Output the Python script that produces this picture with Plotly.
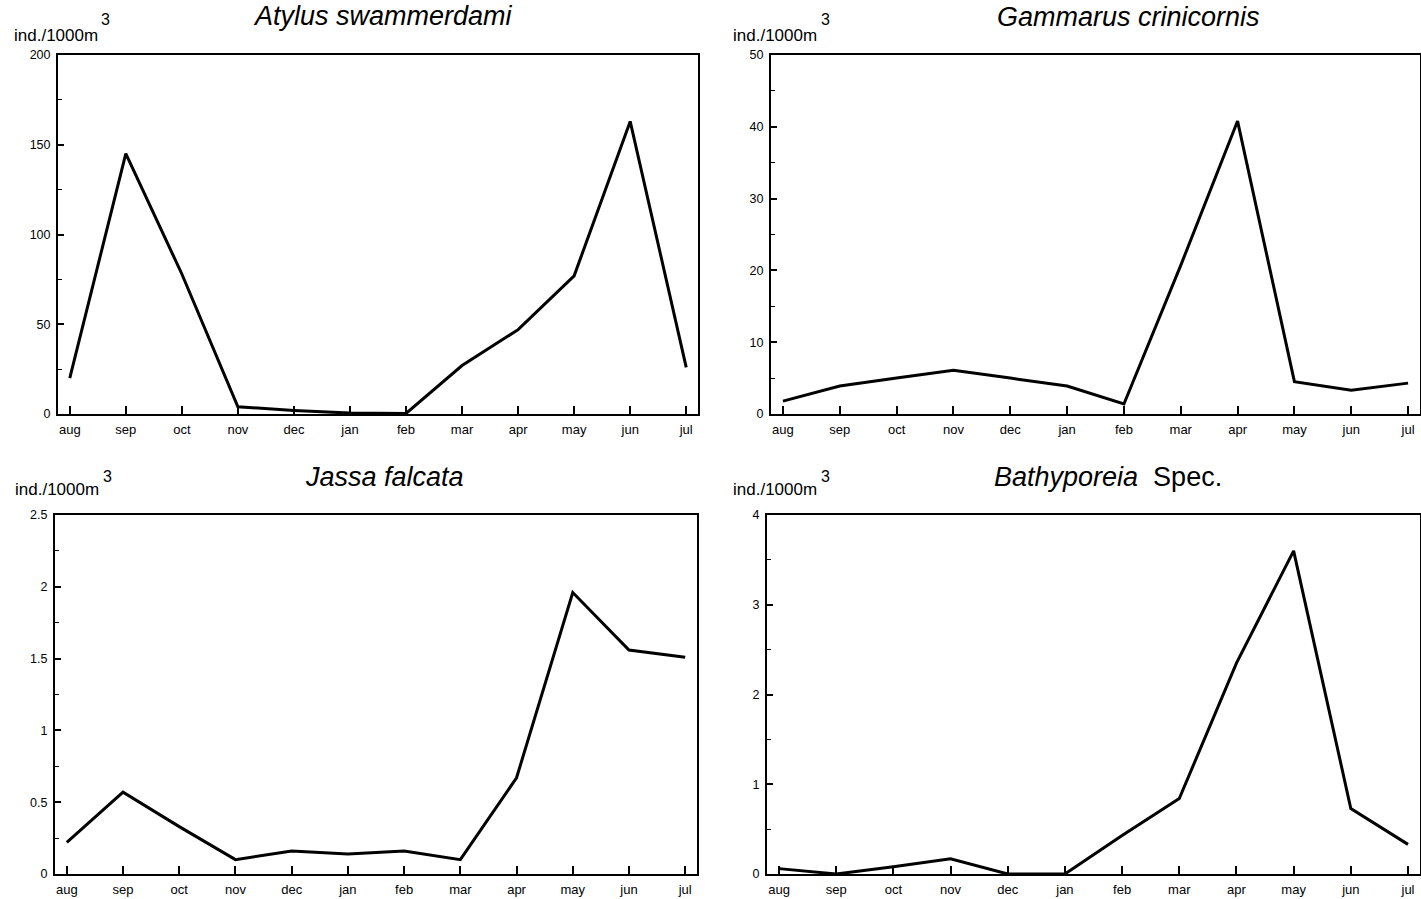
import plotly.graph_objects as go

months = ["aug", "sep", "oct", "nov", "dec", "jan", "feb", "mar", "apr", "may", "jun", "jul"]

atylus = [20, 145, 78, 4, 2, 0.5, 0.3, 27, 47, 77, 163, 26]
gammarus = [1.8, 3.9, 5.0, 6.1, 5.0, 3.9, 1.4, 20.7, 40.8, 4.5, 3.3, 4.3]
jassa = [0.22, 0.57, 0.33, 0.10, 0.16, 0.14, 0.16, 0.10, 0.67, 1.96, 1.56, 1.51]
bathyporeia = [0.06, 0.0, 0.08, 0.17, 0.0, 0.0, 0.43, 0.84, 2.35, 3.6, 0.73, 0.33]

titles = ["<i>Atylus swammerdami</i>", "<i>Gammarus crinicornis</i>",
          "<i>Jassa falcata</i>", "<i>Bathyporeia</i>  Spec."]
y_max = [200, 50, 2.5, 4]
y_dtick = [50, 10, 0.5, 1]
y_minor = [25, 5, 0.25, 0.5]
series = [atylus, gammarus, jassa, bathyporeia]

W, H = 1421, 899

def px(x):
    return x / W

def py(y):
    return (H - y) / H

# panel pixel boxes: (left, right, top, bottom)
boxes = [(58, 698, 55, 414), (771, 1420, 55, 414), (55, 697, 515, 874), (767, 1420, 515, 874)]
title_pos = [(383, 16), (1128, 17), (384, 477), (1108, 477)]
unit_pos = [(12, 36, 105, 20), (731, 36, 825, 20), (13, 490, 108, 476), (731, 490, 826, 476)]

fig = go.Figure()
font_family = "Liberation Sans, Arial, Helvetica, sans-serif"

layout = dict(
    width=W, height=H,
    margin=dict(l=0, r=0, t=0, b=0, pad=0, autoexpand=False),
    paper_bgcolor="white", plot_bgcolor="white",
    showlegend=False,
    font=dict(family=font_family, color="black"),
)
annotations = []
for i in range(4):
    ax = "" if i == 0 else str(i + 1)
    l, r, t, b = boxes[i]
    fig.add_trace(go.Scatter(
        x=list(range(len(months))), y=series[i], mode="lines",
        line=dict(color="black", width=3), xaxis="x" + ax, yaxis="y" + ax,
    ))
    layout["xaxis" + ax] = dict(
        domain=[px(l), px(r)], anchor="y" + ax, range=[-0.21, 11.21],
        tickvals=list(range(12)), ticktext=months,
        ticks="inside", ticklen=8, tickwidth=1.5, tickcolor="black",
        showline=True, linecolor="black", linewidth=2, mirror=True,
        showgrid=False, zeroline=False, fixedrange=True, automargin=False,
        ticklabelstandoff=2,
        tickfont=dict(size=13, family=font_family, color="black"),
    )
    layout["yaxis" + ax] = dict(
        domain=[py(b), py(t)], anchor="x" + ax, range=[0, y_max[i]],
        dtick=y_dtick[i], tick0=0,
        ticks="inside", ticklen=6, tickwidth=1.5, tickcolor="black",
        minor=dict(ticks="inside", ticklen=4, dtick=y_minor[i], tick0=0, tickcolor="black", tickwidth=1),
        showline=True, linecolor="black", linewidth=2, mirror=True,
        showgrid=False, zeroline=False, fixedrange=True, automargin=False,
        ticklabelstandoff=3,
        tickfont=dict(size=12.5, family=font_family, color="black"),
    )
    tx, ty = title_pos[i]
    annotations.append(dict(
        text=titles[i], x=px(tx), y=py(ty), xref="paper", yref="paper",
        xanchor="center", yanchor="middle", showarrow=False,
        font=dict(size=27, family=font_family, color="black"),
    ))
    ux, uy, sx, sy = unit_pos[i]
    annotations.append(dict(
        text="ind./1000m", x=px(ux), y=py(uy), xref="paper", yref="paper",
        xanchor="left", yanchor="middle", showarrow=False,
        font=dict(size=17, family=font_family, color="black"),
    ))
    annotations.append(dict(
        text="3", x=px(sx), y=py(sy), xref="paper", yref="paper",
        xanchor="center", yanchor="middle", showarrow=False,
        font=dict(size=16, family=font_family, color="black"),
    ))

layout["annotations"] = annotations
fig.update_layout(**layout)
fig.write_html(
    "out.html",
    config={"displayModeBar": False},
    post_script="document.body.style.margin='0';document.body.style.overflow='hidden';",
)
